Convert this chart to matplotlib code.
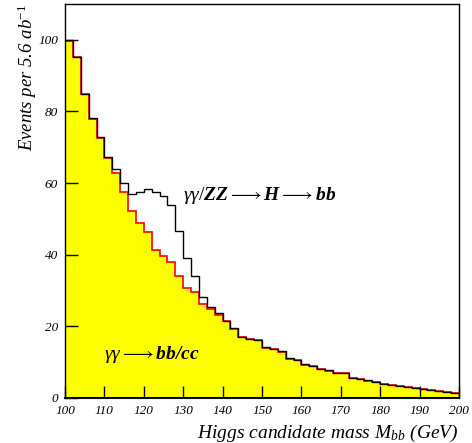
import numpy as np
import matplotlib
matplotlib.use("Agg")
import matplotlib.pyplot as plt

# ---- data ----
bin_edges = np.arange(100, 202, 2)
total = [100.0, 95.3, 85.0, 78.1, 73.0, 67.4, 63.9, 60.1, 56.9, 57.4,
         58.3, 57.4, 56.4, 53.9, 46.6, 39.2, 34.2, 28.3, 25.5, 23.7,
         21.5, 19.5, 17.1, 16.6, 16.2, 14.1, 13.8, 13.0, 11.05, 10.7,
         9.4, 8.9, 8.1, 7.7, 7.1, 7.0, 5.7, 5.3, 4.9, 4.6,
         4.0, 3.7, 3.4, 3.2, 2.9, 2.5, 2.3, 2.0, 1.8, 1.5]
background = [99.8, 95.1, 84.8, 77.9, 72.6, 67.0, 62.9, 57.5, 52.2, 48.9,
              46.3, 41.4, 39.6, 38.0, 34.2, 30.8, 29.5, 26.3, 24.8, 23.2,
              21.4, 19.4, 17.0, 16.5, 16.1, 14.0, 13.7, 12.9, 10.95, 10.6,
              9.3, 8.8, 8.0, 7.6, 7.0, 6.9, 5.6, 5.2, 4.8, 4.5,
              3.9, 3.6, 3.3, 3.1, 2.8, 2.4, 2.2, 1.9, 1.7, 1.4]
xticks = [100, 110, 120, 130, 140, 150, 160, 170, 180, 190, 200]
yticks = [0, 20, 40, 60, 80, 100]

plt.rcParams['mathtext.fontset'] = 'custom'
plt.rcParams['mathtext.rm'] = 'Liberation Serif'
plt.rcParams['mathtext.it'] = 'Liberation Serif:italic'
plt.rcParams['mathtext.bf'] = 'Liberation Serif:italic:bold'

fig = plt.figure(figsize=(4.72, 4.43), dpi=100)
ax = fig.add_axes([65/472, 1-398/443, (459-65)/472, (398-4)/443])

ax.stairs(background, bin_edges, fill=True, color='#ffff00', baseline=0, zorder=1)
ax.stairs(background, bin_edges, color='#ff0000', linewidth=1.2, baseline=None, zorder=2)
ax.stairs(total, bin_edges, color='black', linewidth=1.0, baseline=None, zorder=3)

ax.set_xlim(100, 200)
ax.set_ylim(0, 110)
ax.set_xticks(xticks)
ax.set_yticks(yticks)
tickfont = dict(family='Liberation Serif', style='italic', size=9.5)
ax.set_xticklabels([str(t) for t in xticks], fontdict=tickfont)
ax.set_yticklabels([str(t) for t in yticks], fontdict=tickfont)
ax.tick_params(direction='in', length=9, width=1, top=False, right=False)
ax.tick_params(axis='x', pad=5)
ax.tick_params(axis='y', pad=5)
for s in ax.spines.values():
    s.set_linewidth(1.0)
ax.spines['bottom'].set_linewidth(1.5)

ax.set_ylabel(r'Events per 5.6 ab$^{-1}$', family='Liberation Serif', style='italic',
              size=13.5, ha='right', y=1.0)
ax.yaxis.set_label_coords(-0.065, 1.0)
ax.set_xlabel(r'Higgs candidate mass M$_{bb}$ (GeV)', family='Liberation Serif',
              style='italic', size=14, ha='right', x=1.0)

ax.text(0.30, 0.515,
        r'$\gamma\gamma/\mathbf{ZZ} \longrightarrow \mathbf{H} \longrightarrow \mathbf{bb}$',
        transform=ax.transAxes, size=14, ha='left', va='center')
ax.text(0.10, 0.11, r'$\gamma\gamma \longrightarrow \mathbf{bb/cc}$',
        transform=ax.transAxes, size=14, ha='left', va='center')

fig.savefig('out.png', dpi=100)
